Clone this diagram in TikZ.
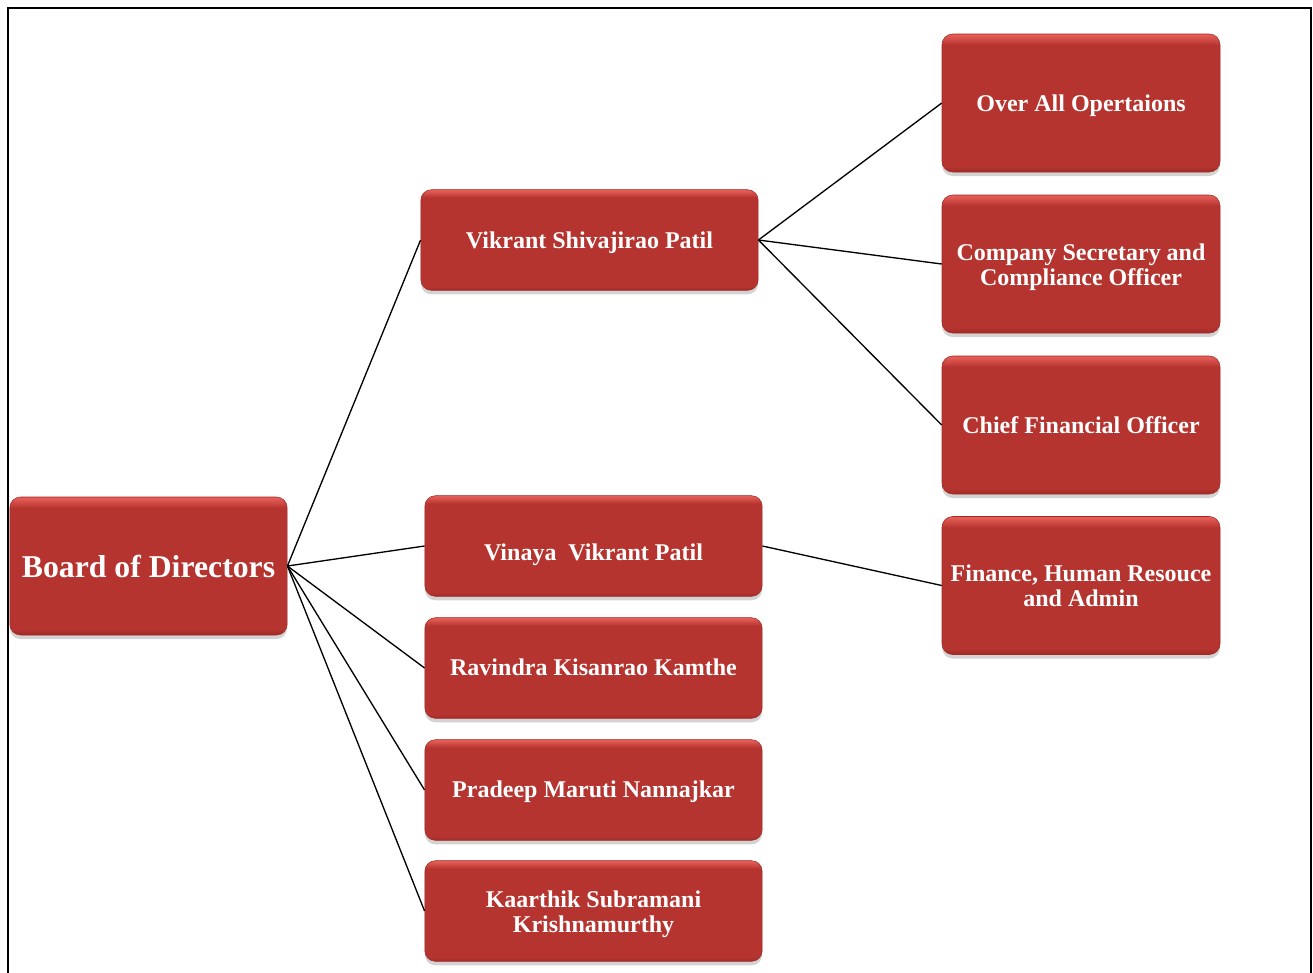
\documentclass[tikz,border=0pt]{standalone}
\usepackage{fontspec}
\setmainfont{Liberation Serif}
\usetikzlibrary{shadows}
\definecolor{boxmain}{RGB}{181,52,47}
\definecolor{boxlight}{RGB}{228,92,86}
\definecolor{boxdark}{RGB}{160,42,38}
\pgfdeclareverticalshading{boxshade}{100bp}{color(0bp)=(boxdark); color(25bp)=(boxdark); color(27bp)=(boxmain); color(71bp)=(boxmain); color(74.5bp)=(boxlight); color(100bp)=(boxlight)}
\newcommand\lowered[2]{\raisebox{-#1}[\height][\depth]{\begin{tabular}{@{}c@{}}#2\end{tabular}}}
\tikzset{
  orgbox/.style={shading=boxshade, draw=boxdark, line width=0.4pt, rounded corners=8pt,
    text=white, font=\bfseries\fontsize{18}{18.75}\selectfont, align=center, inner sep=0pt,
    drop shadow={opacity=0.35, shadow xshift=0pt, shadow yshift=-3pt}},
  midbox/.style={orgbox, minimum width=253pt, minimum height=75.5pt},
  rightbox/.style={orgbox, minimum width=208.5pt, minimum height=103.5pt},
  link/.style={draw=black, line width=1pt}
}
\begin{document}
\begin{tikzpicture}[x=0.75pt, y=-0.75pt]
\useasboundingbox (0,0) rectangle (1313,972);
\draw[line width=1.6pt] (8,980) -- (8,8) -- (1311,8) -- (1311,980);
\node[orgbox, minimum width=208pt, minimum height=103.5pt, font=\bfseries\fontsize{23.8}{28}\selectfont] (board) at (148.5,566) {Board of Directors};
\node[midbox] (vik) at (589.5,240) {\lowered{2.25pt}{Vikrant Shivajirao Patil}};
\node[midbox] (vin) at (593.5,546) {\lowered{6.75pt}{Vinaya\ \ Vikrant Patil}};
\node[midbox] (rav) at (593.5,668) {\lowered{1.5pt}{Ravindra Kisanrao Kamthe}};
\node[midbox] (pra) at (593.5,790) {\lowered{1.5pt}{Pradeep Maruti Nannajkar}};
\node[midbox] (kaa) at (593.5,911) {\lowered{3pt}{Kaarthik Subramani\\Krishnamurthy}};
\node[rightbox] (ops) at (1081,103) {\lowered{2.75pt}{Over All Opertaions}};
\node[rightbox] (sec) at (1081,264) {\lowered{3pt}{Company Secretary and\\Compliance Officer}};
\node[rightbox] (cfo) at (1081,425) {\lowered{2.25pt}{Chief Financial Officer}};
\node[rightbox] (fin) at (1081,585.5) {\lowered{2.25pt}{Finance, Human Resouce\\and Admin}};
\draw[link] (board.east) -- (vik.west);
\draw[link] (board.east) -- (vin.west);
\draw[link] (board.east) -- (rav.west);
\draw[link] (board.east) -- (pra.west);
\draw[link] (board.east) -- (kaa.west);
\draw[link] (vik.east) -- (ops.west);
\draw[link] (vik.east) -- (sec.west);
\draw[link] (vik.east) -- (cfo.west);
\draw[link] (vin.east) -- (fin.west);
\end{tikzpicture}
\end{document}
